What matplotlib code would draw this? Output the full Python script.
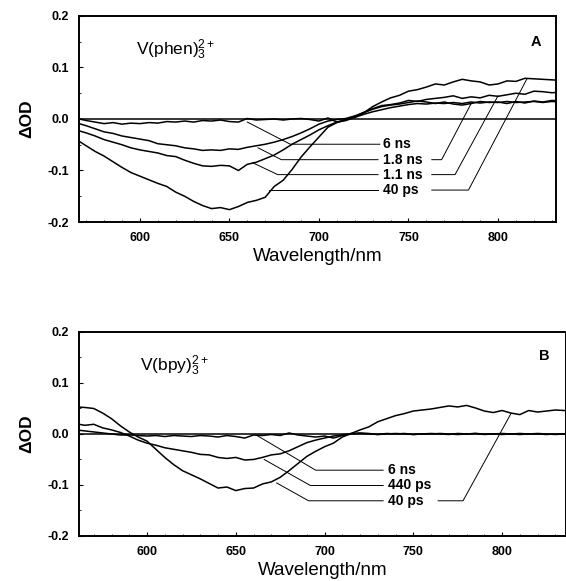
import numpy as np
import matplotlib
matplotlib.use('Agg')
import matplotlib.pyplot as plt
from matplotlib.ticker import MultipleLocator, FormatStrFormatter

plt.rcParams['font.family'] = ['Liberation Sans', 'DejaVu Sans']
plt.rcParams['axes.unicode_minus'] = False
plt.rcParams['mathtext.fontset'] = 'custom'
plt.rcParams['mathtext.rm'] = 'Liberation Sans'
plt.rcParams['mathtext.it'] = 'Liberation Sans'

# Panel A: V(phen)3 2+, wavelength grid in nm
wl_a = np.arange(565, 836, 5)
a_40ps = [-0.041, -0.052, -0.063, -0.072, -0.083, -0.094, -0.104, -0.111, -0.118, -0.125,
          -0.131, -0.142, -0.150, -0.160, -0.168, -0.174, -0.172, -0.176, -0.170, -0.162,
          -0.158, -0.152, -0.131, -0.119, -0.098, -0.074, -0.054, -0.035, -0.016, -0.007,
          -0.002, 0.004, 0.012, 0.024, 0.033, 0.041, 0.046, 0.054, 0.057, 0.062,
          0.068, 0.066, 0.072, 0.077, 0.074, 0.072, 0.066, 0.068, 0.074, 0.073,
          0.079, 0.078, 0.077, 0.076, 0.075]
a_1_1ns = [-0.022, -0.027, -0.033, -0.040, -0.045, -0.050, -0.056, -0.060, -0.063, -0.066,
           -0.071, -0.073, -0.080, -0.086, -0.091, -0.092, -0.090, -0.091, -0.100, -0.088,
           -0.084, -0.077, -0.070, -0.060, -0.049, -0.040, -0.031, -0.021, -0.013, -0.006,
           -0.001, 0.005, 0.013, 0.020, 0.026, 0.028, 0.031, 0.036, 0.034, 0.038,
           0.040, 0.042, 0.045, 0.040, 0.043, 0.041, 0.046, 0.044, 0.047, 0.050,
           0.048, 0.054, 0.053, 0.051, 0.052]
a_1_8ns = [-0.008, -0.013, -0.019, -0.025, -0.028, -0.033, -0.036, -0.039, -0.042, -0.048,
           -0.050, -0.052, -0.056, -0.058, -0.061, -0.060, -0.061, -0.058, -0.059, -0.055,
           -0.052, -0.049, -0.045, -0.040, -0.034, -0.027, -0.019, -0.010, -0.004, -0.001,
           0.001, 0.006, 0.012, 0.019, 0.024, 0.027, 0.029, 0.032, 0.035, 0.033,
           0.030, 0.033, 0.029, 0.027, 0.030, 0.034, 0.032, 0.033, 0.030, 0.034,
           0.031, 0.035, 0.033, 0.036, 0.035]
a_6ns = [0.001, -0.003, -0.006, -0.009, -0.007, -0.010, -0.008, -0.009, -0.007, -0.008,
         -0.005, -0.006, -0.004, -0.006, -0.003, -0.004, -0.002, -0.005, -0.006, 0.001,
         -0.002, -0.001, 0.000, -0.002, 0.000, 0.001, -0.001, -0.004, 0.002, -0.006,
         -0.003, 0.003, 0.009, 0.014, 0.018, 0.022, 0.025, 0.028, 0.030, 0.029,
         0.031, 0.030, 0.032, 0.030, 0.033, 0.031, 0.033, 0.032, 0.034, 0.032,
         0.033, 0.034, 0.032, 0.034, 0.033]

# Panel B: V(bpy)3 2+
wl_b = np.arange(560, 836, 5)
b_40ps = [0.053, 0.052, 0.050, 0.041, 0.030, 0.016, 0.004, -0.006, -0.014, -0.030,
          -0.046, -0.060, -0.072, -0.080, -0.088, -0.097, -0.106, -0.104, -0.111, -0.107,
          -0.106, -0.098, -0.094, -0.085, -0.072, -0.058, -0.044, -0.034, -0.025, -0.018,
          -0.006, 0.001, 0.008, 0.014, 0.024, 0.030, 0.036, 0.040, 0.045, 0.047,
          0.049, 0.052, 0.055, 0.053, 0.056, 0.051, 0.045, 0.042, 0.046, 0.041,
          0.038, 0.046, 0.043, 0.045, 0.047, 0.046]
b_440ps = [0.020, 0.017, 0.019, 0.012, 0.008, 0.003, -0.004, -0.012, -0.018, -0.022,
           -0.027, -0.030, -0.033, -0.036, -0.040, -0.041, -0.046, -0.048, -0.046, -0.051,
           -0.050, -0.046, -0.041, -0.039, -0.033, -0.025, -0.017, -0.012, -0.008, -0.004,
           -0.002, 0.001, 0.002, 0.001, -0.001, 0.001, 0.000, 0.001, -0.001, 0.000,
           0.001, 0.000, -0.001, 0.001, 0.000, 0.001, -0.001, 0.000, 0.001, 0.000,
           -0.001, 0.000, 0.001, 0.000, -0.001, 0.000]
b_6ns = [0.008, 0.006, 0.004, 0.002, 0.000, -0.002, -0.002, -0.003, -0.004, -0.003,
         -0.005, -0.003, -0.004, -0.005, -0.003, -0.004, -0.006, -0.003, -0.005, -0.008,
         -0.002, -0.003, -0.001, -0.003, 0.002, -0.002, -0.004, -0.006, -0.004, -0.008,
         -0.003, 0.000, 0.001, 0.000, -0.001, 0.000, 0.001, 0.000, -0.001, 0.000,
         0.000, 0.001, 0.000, -0.001, 0.000, 0.001, 0.000, 0.000, -0.001, 0.000,
         0.001, 0.000, 0.000, -0.001, 0.000, 0.000]

# label text, label y, leader lines
labels_a = ['6 ns', '1.8 ns', '1.1 ns', '40 ps']
label_y_a = [-0.049, -0.079, -0.108, -0.138]
leaders_a = [
    ([734, 684, 660], [-0.049, -0.049, -0.006]),
    ([733, 679, 666], [-0.079, -0.079, -0.056]),
    ([733, 677, 663], [-0.108, -0.108, -0.085]),
    ([733, 672], [-0.138, -0.138]),
    ([763, 768.5, 785], [-0.079, -0.079, 0.030]),
    ([763, 776, 800], [-0.108, -0.108, 0.045]),
    ([763, 783.5, 816], [-0.138, -0.138, 0.077]),
]
labels_b = ['6 ns', '440 ps', '40 ps']
label_y_b = [-0.071, -0.101, -0.131]
leaders_b = [
    ([733, 695, 662], [-0.071, -0.071, -0.003]),
    ([733, 692, 666], [-0.101, -0.101, -0.050]),
    ([733, 691, 673], [-0.131, -0.131, -0.096]),
    ([764, 778, 805], [-0.131, -0.131, 0.040]),
]


def style_axes(ax, xlim):
    ax.set_xlim(*xlim)
    ax.set_ylim(-0.2, 0.2)
    ax.axhline(0, color='black', lw=1.1)
    ax.xaxis.set_major_locator(MultipleLocator(50))
    ax.xaxis.set_minor_locator(MultipleLocator(10))
    ax.yaxis.set_major_locator(MultipleLocator(0.1))
    ax.yaxis.set_minor_locator(MultipleLocator(0.05))
    ax.yaxis.set_major_formatter(FormatStrFormatter('%.1f'))
    ax.tick_params(which='both', direction='in', labelsize=9, pad=7)
    ax.tick_params(which='major', length=3)
    ax.tick_params(which='minor', length=1.5)
    for lab in ax.get_xticklabels() + ax.get_yticklabels():
        lab.set_fontweight('bold')
    for sp in ax.spines.values():
        sp.set_linewidth(1.4)
    ax.set_xlabel('Wavelength/nm', fontsize=13.5, labelpad=3)
    ax.set_ylabel('ΔOD', fontsize=12.5, fontweight='bold', labelpad=10)


fig = plt.figure(figsize=(5.66, 5.81), dpi=100)

# Panel A
ax1 = fig.add_axes([0.1396, 0.6179, 0.8428, 0.3546])
for y in [a_40ps, a_1_1ns, a_1_8ns, a_6ns]:
    ax1.plot(wl_a, y, color='black', lw=1.1)
for (lx, ly) in leaders_a:
    ax1.plot(lx, ly, color='black', lw=0.7)
for lab, ly in zip(labels_a, label_y_a):
    ax1.text(736, ly, lab, fontsize=10, fontweight='bold', va='center', ha='left',
             bbox=dict(facecolor='white', edgecolor='none', pad=0.5))
ax1.text(598, 0.135, r'V(phen)$_3^{2+}$', fontsize=12.5, va='center', ha='left')
ax1.text(821, 0.15, 'A', fontsize=10.5, fontweight='bold', va='center', ha='center')
style_axes(ax1, (566, 832.4))

# Panel B
ax2 = fig.add_axes([0.1396, 0.0775, 0.8604, 0.3511])
for y in [b_40ps, b_440ps, b_6ns]:
    ax2.plot(wl_b, y, color='black', lw=1.1)
for (lx, ly) in leaders_b:
    ax2.plot(lx, ly, color='black', lw=0.7)
for lab, ly in zip(labels_b, label_y_b):
    ax2.text(736, ly, lab, fontsize=10, fontweight='bold', va='center', ha='left',
             bbox=dict(facecolor='white', edgecolor='none', pad=0.5))
ax2.text(596, 0.134, r'V(bpy)$_3^{2+}$', fontsize=12.5, va='center', ha='left')
ax2.text(824, 0.152, 'B', fontsize=10.5, fontweight='bold', va='center', ha='center')
style_axes(ax2, (561.7, 836))

fig.savefig('out.png', dpi=100)
